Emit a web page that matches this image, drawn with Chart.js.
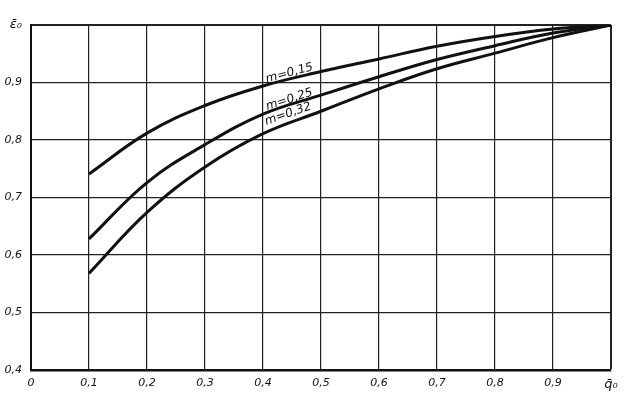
<!DOCTYPE html>
<html><head><meta charset="utf-8">
<script src="https://cdn.jsdelivr.net/npm/chart.js@4.4.1/dist/chart.umd.min.js"></script>
<style>html,body{margin:0;padding:0;background:#fff;}canvas{display:block;}</style>
</head><body>
<canvas id="c" width="633" height="398"></canvas>
<script>
const xValues = [0.1, 0.2, 0.3, 0.4, 0.5, 0.6, 0.7, 0.8, 0.9, 1.0];
const seriesM015 = [0.741, 0.812, 0.860, 0.894, 0.919, 0.941, 0.963, 0.980, 0.993, 1.0];
const seriesM025 = [0.628, 0.726, 0.792, 0.845, 0.878, 0.910, 0.940, 0.964, 0.986, 1.0];
const seriesM032 = [0.568, 0.674, 0.753, 0.811, 0.850, 0.889, 0.924, 0.951, 0.978, 1.0];
const seriesNames = ['m=0,15', 'm=0,25', 'm=0,32'];
const xTickLabels = ['0', '0,1', '0,2', '0,3', '0,4', '0,5', '0,6', '0,7', '0,8', '0,9', 'q\u0304\u2080'];
const yTickLabels = ['0,4', '0,5', '0,6', '0,7', '0,8', '0,9', '\u03B5\u0304\u2080'];

const toPts = (ys) => xValues.map((x, i) => ({x: x, y: ys[i]}));

// label anchors in data coordinates along the curves
const curveLabels = [
  {text: seriesNames[0], x: 0.447, y: 0.911, angle: -15},
  {text: seriesNames[1], x: 0.447, y: 0.865, angle: -18},
  {text: seriesNames[2], x: 0.445, y: 0.840, angle: -19}
];

const labelPlugin = {
  id: 'curveLabels',
  afterDatasetsDraw(chart) {
    const ctx = chart.ctx, xs = chart.scales.x, ys = chart.scales.y;
    ctx.save();
    ctx.fillStyle = '#111';
    ctx.font = 'italic 12px "DejaVu Sans"';
    ctx.textAlign = 'center';
    ctx.textBaseline = 'alphabetic';
    curveLabels.forEach(l => {
      const px = xs.getPixelForValue(l.x), py = ys.getPixelForValue(l.y);
      ctx.save();
      ctx.translate(px, py);
      ctx.rotate(l.angle * Math.PI / 180);
      ctx.fillText(l.text, 0, 0);
      ctx.restore();
    });
    ctx.restore();
  }
};

const lineStyle = {borderColor: '#111', borderWidth: 3, pointRadius: 0, fill: false, tension: 0.4};
const tickFont = (isSymbol) => ({family: '"DejaVu Sans"', size: isSymbol ? 13 : 11, style: 'italic'});

new Chart(document.getElementById('c'), {
  type: 'line',
  data: {
    datasets: [
      Object.assign({label: seriesNames[0], data: toPts(seriesM015)}, lineStyle),
      Object.assign({label: seriesNames[1], data: toPts(seriesM025)}, lineStyle),
      Object.assign({label: seriesNames[2], data: toPts(seriesM032)}, lineStyle)
    ]
  },
  options: {
    responsive: false,
    animation: false,
    devicePixelRatio: 1,
    layout: {padding: {top: 25, right: 22, left: 0, bottom: 0}},
    plugins: {legend: {display: false}, tooltip: {enabled: false}},
    scales: {
      x: {
        type: 'linear', min: 0, max: 1,
        afterFit(s) { s.height = 28; },
        grid: {color: '#222', lineWidth: (c) => (c.index === 10 ? 2 : 1.2), drawTicks: false},
        border: {display: true, color: '#111', width: 2.5},
        ticks: {
          stepSize: 0.1, padding: 7, color: '#111', maxRotation: 0, autoSkip: false,
          font: (c) => tickFont(c.index === 10),
          callback: (v) => { const i = Math.round(v * 10); return xTickLabels[i]; }
        }
      },
      y: {
        type: 'linear', min: 0.4, max: 1.0,
        afterFit(s) { s.width = 31; },
        grid: {color: '#222', lineWidth: (c) => (c.index === 6 ? 2 : 1.2), drawTicks: false},
        border: {display: true, color: '#111', width: 2},
        ticks: {
          stepSize: 0.1, padding: 9, color: '#111',
          font: (c) => tickFont(c.index === 6),
          callback: (v) => { const i = Math.round((v - 0.4) * 10); return yTickLabels[i]; }
        }
      }
    }
  },
  plugins: [labelPlugin]
});
</script>
</body></html>
